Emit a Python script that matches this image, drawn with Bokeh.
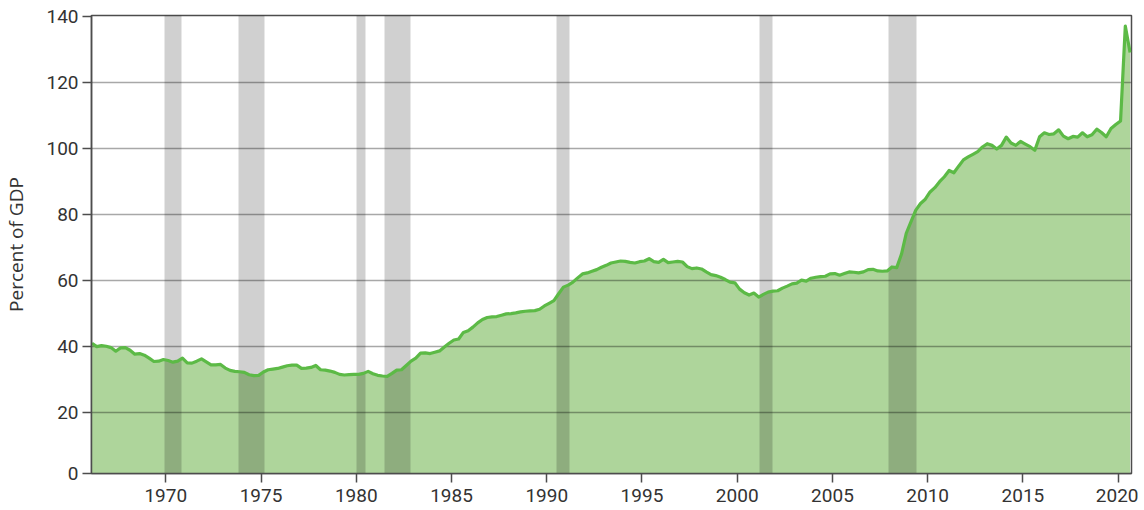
import numpy as np
from bokeh.plotting import figure
from bokeh.models import Range1d, FixedTicker, CustomJSTickFormatter
from bokeh.embed import file_html
from bokeh.resources import INLINE

# Federal debt, percent of GDP, quarterly from 1966Q1
first_year = 1966
debt_pct_gdp = [
    41.0, 40.0, 40.3, 40.1,   # 1966
    39.7, 38.6, 39.6, 39.7,   # 1967
    38.9, 37.7, 37.9, 37.4,   # 1968
    36.5, 35.5, 35.6, 36.1,   # 1969
    35.8, 35.3, 35.6, 36.5,   # 1970
    35.1, 35.0, 35.6, 36.3,   # 1971
    35.4, 34.5, 34.5, 34.6,   # 1972
    33.5, 32.8, 32.5, 32.4,   # 1973
    32.2, 31.5, 31.2, 31.3,   # 1974
    32.3, 33.0, 33.2, 33.4,   # 1975
    33.8, 34.2, 34.4, 34.4,   # 1976
    33.4, 33.5, 33.7, 34.3,   # 1977
    33.0, 32.9, 32.6, 32.2,   # 1978
    31.6, 31.4, 31.5, 31.6,   # 1979
    31.6, 31.9, 32.5, 31.8,   # 1980
    31.3, 31.1, 31.0, 31.9,   # 1981
    32.9, 33.0, 34.3, 35.6,   # 1982
    36.5, 38.0, 38.1, 37.9,   # 1983
    38.3, 38.7, 39.9, 41.0,   # 1984
    42.0, 42.3, 44.3, 44.8,   # 1985
    45.9, 47.2, 48.2, 48.8,   # 1986
    49.0, 49.1, 49.5, 49.9,   # 1987
    50.0, 50.2, 50.5, 50.7,   # 1988
    50.8, 50.9, 51.3, 52.3,   # 1989
    53.1, 53.9, 56.0, 58.0,   # 1990
    58.6, 59.5, 60.8, 62.0,   # 1991
    62.3, 62.8, 63.3, 64.0,   # 1992
    64.6, 65.3, 65.6, 65.9,   # 1993
    65.8, 65.5, 65.3, 65.7,   # 1994
    65.9, 66.6, 65.7, 65.5,   # 1995
    66.4, 65.4, 65.6, 65.8,   # 1996
    65.6, 64.2, 63.6, 63.8,   # 1997
    63.5, 62.6, 61.8, 61.5,   # 1998
    61.0, 60.3, 59.5, 59.3,   # 1999
    57.4, 56.3, 55.6, 56.2,   # 2000
    55.0, 55.8, 56.5, 56.8,   # 2001
    56.9, 57.7, 58.3, 59.0,   # 2002
    59.2, 60.1, 59.8, 60.7,   # 2003
    61.0, 61.2, 61.3, 62.0,   # 2004
    62.1, 61.6, 62.1, 62.6,   # 2005
    62.5, 62.3, 62.6, 63.3,   # 2006
    63.4, 62.9, 62.8, 62.9,   # 2007
    64.1, 63.9, 68.0, 74.3,   # 2008
    77.8, 81.3, 83.3, 84.6,   # 2009
    86.8, 88.1, 89.9, 91.4,   # 2010
    93.3, 92.6, 94.6, 96.5,   # 2011
    97.4, 98.2, 99.0, 100.4,  # 2012
    101.4, 100.9, 99.8, 100.9,  # 2013
    103.4, 101.6, 100.9, 102.1,  # 2014
    101.3, 100.5, 99.4, 103.5,  # 2015
    104.7, 104.2, 104.4, 105.6,  # 2016
    103.7, 102.9, 103.6, 103.4,  # 2017
    104.7, 103.5, 104.1, 105.8,  # 2018
    104.8, 103.5, 106.0, 107.2,  # 2019
    108.3, 137.0, 129.0,         # 2020
]

# NBER recessions (decimal years)
recession_start = [1969.92, 1973.83, 1980.00, 1981.50, 1990.50, 2001.17, 2007.92]
recession_end = [1970.83, 1975.17, 1980.50, 1982.83, 1991.17, 2001.83, 2009.42]

x_ticks = [1970, 1975, 1980, 1985, 1990, 1995, 2000, 2005, 2010, 2015, 2020]
y_ticks = [20, 40, 60, 80, 100, 120, 140]

# mid-quarter dates
dates = first_year + 0.125 + 0.25 * np.arange(len(debt_pct_gdp))
vals = np.array(debt_pct_gdp)

y_start = 1.6
p = figure(width=1138, height=505, output_backend="svg", toolbar_location=None,
           x_range=Range1d(1966.1, 2020.7), y_range=Range1d(y_start, 140.2),
           min_border_left=91, min_border_right=7, min_border_top=15, min_border_bottom=32)
p.background_fill_color = "white"
p.border_fill_color = "white"
p.outline_line_color = "#4d4d4d"
p.outline_line_width = 1.5
p.xgrid.visible = False
p.ygrid.visible = False

p.varea(x=dates, y1=0, y2=vals, fill_color="#aed59b")
p.vstrip(x0=recession_start, x1=recession_end, fill_color="black", fill_alpha=0.185, line_alpha=0)
p.hspan(y=y_ticks[:-1], line_color="black", line_alpha=0.34, line_width=1.5)
p.line(x=dates, y=vals, line_color="#5cba46", line_width=3.2, line_join="round")

font = "Roboto"
p.xaxis.ticker = FixedTicker(ticks=x_ticks)
p.yaxis.ticker = FixedTicker(ticks=[y_start] + y_ticks)
p.yaxis.formatter = CustomJSTickFormatter(code="return tick < 10 ? '0' : tick.toFixed(0);")
for ax in (p.xaxis, p.yaxis):
    ax.axis_line_color = "#4d4d4d"
    ax.axis_line_width = 1.5
    ax.major_tick_line_color = "#4d4d4d"
    ax.major_tick_line_width = 1.5
    ax.major_tick_out = 9
    ax.major_tick_in = 0
    ax.minor_tick_out = 0
    ax.minor_tick_in = 0
    ax.major_label_text_font = font
    ax.major_label_text_font_size = "19px"
    ax.major_label_text_color = "#333333"
p.xaxis.major_label_standoff = 6
p.yaxis.major_label_standoff = 4
p.yaxis.axis_label = "Percent of GDP"
p.yaxis.axis_label_text_font = "Open Sans"
p.yaxis.axis_label_text_font_size = "19px"
p.yaxis.axis_label_text_font_style = "normal"
p.yaxis.axis_label_text_color = "#333333"
p.yaxis.axis_label_standoff = 14

open("out.html", "w").write(file_html(p, INLINE))
